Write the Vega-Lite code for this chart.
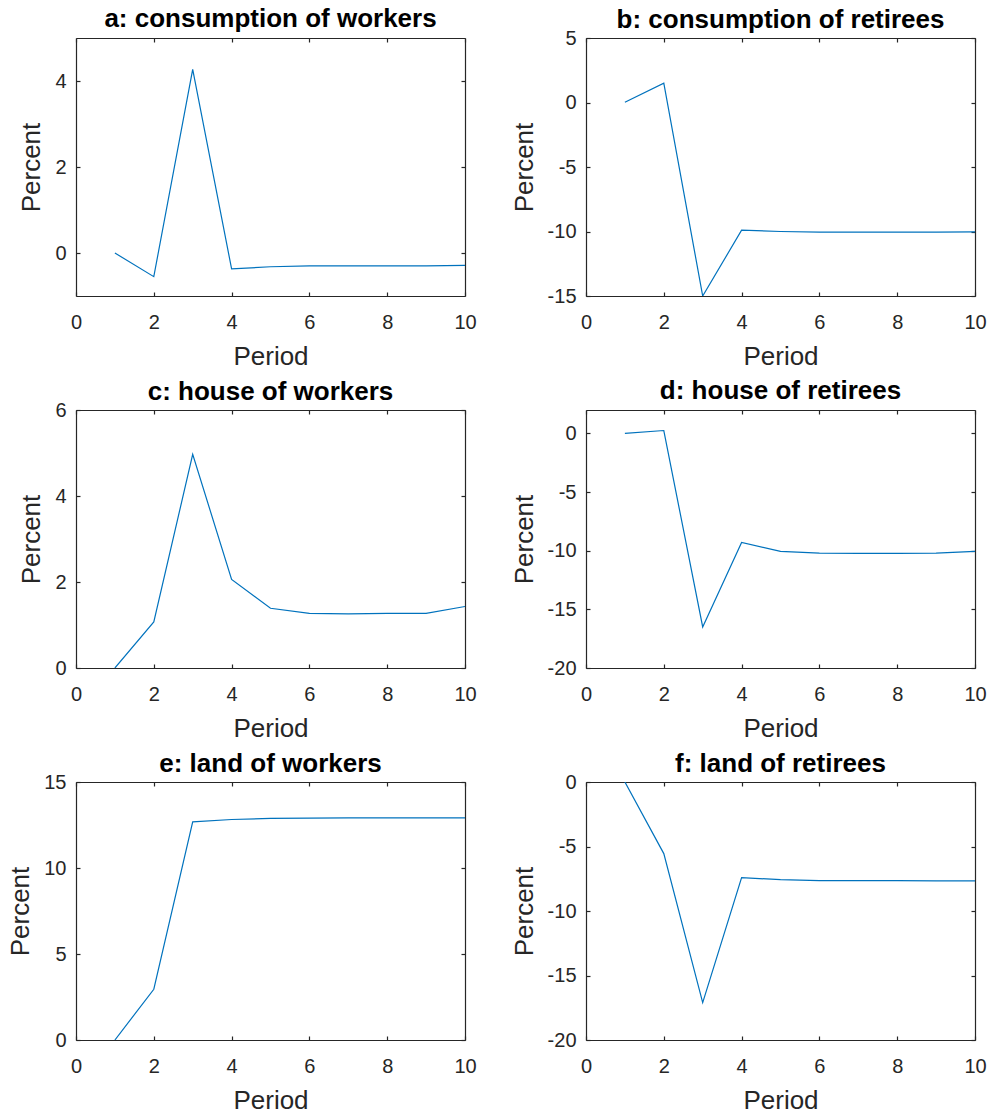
{
  "$schema": "https://vega.github.io/schema/vega-lite/v6.json",
  "background": "white",
  "padding": {"left": 7, "top": 6, "right": 5, "bottom": 0},
  "data": {"values": [
    {"panel": "a", "period": 1, "value": 0}, {"panel": "a", "period": 2, "value": -0.55}, {"panel": "a", "period": 3, "value": 4.27}, {"panel": "a", "period": 4, "value": -0.37}, {"panel": "a", "period": 5, "value": -0.32}, {"panel": "a", "period": 6, "value": -0.30}, {"panel": "a", "period": 7, "value": -0.30}, {"panel": "a", "period": 8, "value": -0.30}, {"panel": "a", "period": 9, "value": -0.30}, {"panel": "a", "period": 10, "value": -0.29},
    {"panel": "b", "period": 1, "value": 0.02}, {"panel": "b", "period": 2, "value": 1.5}, {"panel": "b", "period": 3, "value": -15.0}, {"panel": "b", "period": 4, "value": -9.9}, {"panel": "b", "period": 5, "value": -10.0}, {"panel": "b", "period": 6, "value": -10.05}, {"panel": "b", "period": 7, "value": -10.05}, {"panel": "b", "period": 8, "value": -10.05}, {"panel": "b", "period": 9, "value": -10.05}, {"panel": "b", "period": 10, "value": -10.03},
    {"panel": "c", "period": 1, "value": 0}, {"panel": "c", "period": 2, "value": 1.07}, {"panel": "c", "period": 3, "value": 4.97}, {"panel": "c", "period": 4, "value": 2.06}, {"panel": "c", "period": 5, "value": 1.39}, {"panel": "c", "period": 6, "value": 1.27}, {"panel": "c", "period": 7, "value": 1.26}, {"panel": "c", "period": 8, "value": 1.27}, {"panel": "c", "period": 9, "value": 1.27}, {"panel": "c", "period": 10, "value": 1.43},
    {"panel": "d", "period": 1, "value": 0}, {"panel": "d", "period": 2, "value": 0.25}, {"panel": "d", "period": 3, "value": -16.5}, {"panel": "d", "period": 4, "value": -9.3}, {"panel": "d", "period": 5, "value": -10.06}, {"panel": "d", "period": 6, "value": -10.2}, {"panel": "d", "period": 7, "value": -10.23}, {"panel": "d", "period": 8, "value": -10.22}, {"panel": "d", "period": 9, "value": -10.2}, {"panel": "d", "period": 10, "value": -10.05},
    {"panel": "e", "period": 1, "value": 0}, {"panel": "e", "period": 2, "value": 2.95}, {"panel": "e", "period": 3, "value": 12.68}, {"panel": "e", "period": 4, "value": 12.82}, {"panel": "e", "period": 5, "value": 12.88}, {"panel": "e", "period": 6, "value": 12.9}, {"panel": "e", "period": 7, "value": 12.91}, {"panel": "e", "period": 8, "value": 12.91}, {"panel": "e", "period": 9, "value": 12.91}, {"panel": "e", "period": 10, "value": 12.91},
    {"panel": "f", "period": 1, "value": 0}, {"panel": "f", "period": 2, "value": -5.55}, {"panel": "f", "period": 3, "value": -17.1}, {"panel": "f", "period": 4, "value": -7.41}, {"panel": "f", "period": 5, "value": -7.57}, {"panel": "f", "period": 6, "value": -7.64}, {"panel": "f", "period": 7, "value": -7.65}, {"panel": "f", "period": 8, "value": -7.65}, {"panel": "f", "period": 9, "value": -7.66}, {"panel": "f", "period": 10, "value": -7.66}
  ]},
  "columns": 2,
  "spacing": {"row": 114, "column": 121},
  "bounds": "flush",
  "concat": [
      {"title": {"text": "a: consumption of workers", "offset": 5}, "width": 389, "height": 258, "transform": [{"filter": "datum.panel == 'a'"}],
       "layer": [
        {"mark": {"type": "line", "color": "#0072BD", "strokeWidth": 1.2, "clip": true},
         "encoding": {"x": {"field": "period", "type": "quantitative", "scale": {"domain": [0, 10]}, "axis": {"orient": "bottom", "values": [0,2,4,6,8,10], "title": "Period"}},
                      "y": {"field": "value", "type": "quantitative", "scale": {"domain": [-1, 5], "nice": false, "zero": false}, "axis": {"orient": "left", "values": [0,2,4], "title": "Percent"}}}},
        {"mark": {"type": "line", "opacity": 0},
         "encoding": {"x": {"field": "period", "type": "quantitative", "axis": {"orient": "top", "values": [0,2,4,6,8,10], "labels": false, "title": null}},
                      "y": {"field": "value", "type": "quantitative", "axis": {"orient": "right", "values": [0,2,4], "labels": false, "title": null}}}}
       ],
       "resolve": {"axis": {"x": "independent", "y": "independent"}}},
      {"title": {"text": "b: consumption of retirees", "offset": -5}, "width": 389, "height": 258, "transform": [{"filter": "datum.panel == 'b'"}],
       "layer": [
        {"mark": {"type": "line", "color": "#0072BD", "strokeWidth": 1.2, "clip": true},
         "encoding": {"x": {"field": "period", "type": "quantitative", "scale": {"domain": [0, 10]}, "axis": {"orient": "bottom", "values": [0,2,4,6,8,10], "title": "Period"}},
                      "y": {"field": "value", "type": "quantitative", "scale": {"domain": [-15, 5], "nice": false, "zero": false}, "axis": {"orient": "left", "values": [-15,-10,-5,0,5], "title": "Percent"}}}},
        {"mark": {"type": "line", "opacity": 0},
         "encoding": {"x": {"field": "period", "type": "quantitative", "axis": {"orient": "top", "values": [0,2,4,6,8,10], "labels": false, "title": null}},
                      "y": {"field": "value", "type": "quantitative", "axis": {"orient": "right", "values": [-15,-10,-5,0,5], "labels": false, "title": null}}}}
       ],
       "resolve": {"axis": {"x": "independent", "y": "independent"}}},
      {"title": {"text": "c: house of workers", "offset": -5}, "width": 389, "height": 258, "transform": [{"filter": "datum.panel == 'c'"}],
       "layer": [
        {"mark": {"type": "line", "color": "#0072BD", "strokeWidth": 1.2, "clip": true},
         "encoding": {"x": {"field": "period", "type": "quantitative", "scale": {"domain": [0, 10]}, "axis": {"orient": "bottom", "values": [0,2,4,6,8,10], "title": "Period"}},
                      "y": {"field": "value", "type": "quantitative", "scale": {"domain": [0, 6], "nice": false, "zero": false}, "axis": {"orient": "left", "values": [0,2,4,6], "title": "Percent"}}}},
        {"mark": {"type": "line", "opacity": 0},
         "encoding": {"x": {"field": "period", "type": "quantitative", "axis": {"orient": "top", "values": [0,2,4,6,8,10], "labels": false, "title": null}},
                      "y": {"field": "value", "type": "quantitative", "axis": {"orient": "right", "values": [0,2,4,6], "labels": false, "title": null}}}}
       ],
       "resolve": {"axis": {"x": "independent", "y": "independent"}}},
      {"title": {"text": "d: house of retirees", "offset": 5}, "width": 389, "height": 258, "transform": [{"filter": "datum.panel == 'd'"}],
       "layer": [
        {"mark": {"type": "line", "color": "#0072BD", "strokeWidth": 1.2, "clip": true},
         "encoding": {"x": {"field": "period", "type": "quantitative", "scale": {"domain": [0, 10]}, "axis": {"orient": "bottom", "values": [0,2,4,6,8,10], "title": "Period"}},
                      "y": {"field": "value", "type": "quantitative", "scale": {"domain": [-20, 2], "nice": false, "zero": false}, "axis": {"orient": "left", "values": [-20,-15,-10,-5,0], "title": "Percent"}}}},
        {"mark": {"type": "line", "opacity": 0},
         "encoding": {"x": {"field": "period", "type": "quantitative", "axis": {"orient": "top", "values": [0,2,4,6,8,10], "labels": false, "title": null}},
                      "y": {"field": "value", "type": "quantitative", "axis": {"orient": "right", "values": [-20,-15,-10,-5,0], "labels": false, "title": null}}}}
       ],
       "resolve": {"axis": {"x": "independent", "y": "independent"}}},
      {"title": {"text": "e: land of workers", "offset": -5}, "width": 389, "height": 258, "transform": [{"filter": "datum.panel == 'e'"}],
       "layer": [
        {"mark": {"type": "line", "color": "#0072BD", "strokeWidth": 1.2, "clip": true},
         "encoding": {"x": {"field": "period", "type": "quantitative", "scale": {"domain": [0, 10]}, "axis": {"orient": "bottom", "values": [0,2,4,6,8,10], "title": "Period"}},
                      "y": {"field": "value", "type": "quantitative", "scale": {"domain": [0, 15], "nice": false, "zero": false}, "axis": {"orient": "left", "values": [0,5,10,15], "title": "Percent"}}}},
        {"mark": {"type": "line", "opacity": 0},
         "encoding": {"x": {"field": "period", "type": "quantitative", "axis": {"orient": "top", "values": [0,2,4,6,8,10], "labels": false, "title": null}},
                      "y": {"field": "value", "type": "quantitative", "axis": {"orient": "right", "values": [0,5,10,15], "labels": false, "title": null}}}}
       ],
       "resolve": {"axis": {"x": "independent", "y": "independent"}}},
      {"title": {"text": "f: land of retirees", "offset": -5}, "width": 389, "height": 258, "transform": [{"filter": "datum.panel == 'f'"}],
       "layer": [
        {"mark": {"type": "line", "color": "#0072BD", "strokeWidth": 1.2, "clip": true},
         "encoding": {"x": {"field": "period", "type": "quantitative", "scale": {"domain": [0, 10]}, "axis": {"orient": "bottom", "values": [0,2,4,6,8,10], "title": "Period"}},
                      "y": {"field": "value", "type": "quantitative", "scale": {"domain": [-20, 0], "nice": false, "zero": false}, "axis": {"orient": "left", "values": [-20,-15,-10,-5,0], "title": "Percent"}}}},
        {"mark": {"type": "line", "opacity": 0},
         "encoding": {"x": {"field": "period", "type": "quantitative", "axis": {"orient": "top", "values": [0,2,4,6,8,10], "labels": false, "title": null}},
                      "y": {"field": "value", "type": "quantitative", "axis": {"orient": "right", "values": [-20,-15,-10,-5,0], "labels": false, "title": null}}}}
       ],
       "resolve": {"axis": {"x": "independent", "y": "independent"}}}
  ],
  "config": {
    "font": "Liberation Sans",
    "view": {"stroke": null},
    "title": {"font": "Liberation Sans", "fontSize": 26, "fontWeight": "bold", "color": "#000000", "anchor": "middle", "frame": "group"},
    "axis": {"grid": false, "domainColor": "#262626", "domainWidth": 1.2, "tickColor": "#262626", "tickWidth": 1.2, "tickSize": -4,
             "labelFont": "Liberation Sans", "labelFontSize": 20, "labelColor": "#262626", "labelFlush": false, "labelOverlap": false,
             "labelExpr": "toString(datum.value)",
             "titleFont": "Liberation Sans", "titleFontSize": 26, "titleFontWeight": "normal", "titleColor": "#262626"},
    "axisX": {"labelPadding": 20, "titlePadding": 11},
    "axisY": {"labelPadding": 14, "titlePadding": 10}
  }
}
